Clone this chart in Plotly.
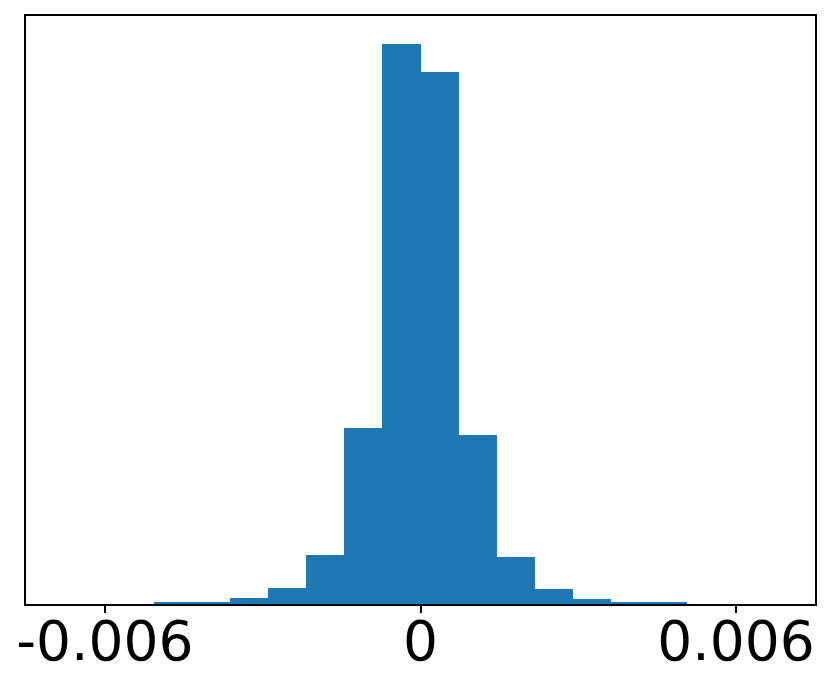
import plotly.graph_objects as go

bin_width = 0.000724
bin_left_edges = [k * bin_width for k in range(-7, 7)]
bin_heights = [1.5, 2.5, 6.2, 15.5, 48.5, 176.2, 559.5, 531.5, 168.5, 46.8, 14.5, 5.5, 2.5, 1.5]
tick_vals = [-0.006, 0, 0.006]
tick_text = ["-0.006", "0", "0.006"]

centers = [e + bin_width / 2 for e in bin_left_edges]

fig = go.Figure(go.Bar(
    x=centers, y=bin_heights, width=bin_width,
    marker=dict(color="#1f77b4", line=dict(width=0)),
))

# page body has an 8px default margin, so the figure is sized to fit the window
fig.update_layout(
    width=823, height=681,
    margin=dict(l=18, r=16, t=8, b=85),
    paper_bgcolor="white", plot_bgcolor="white",
    showlegend=False, bargap=0,
    font=dict(family="DejaVu Sans", color="black"),
)
fig.update_xaxes(
    range=[-0.0075, 0.0075],
    tickvals=tick_vals, ticktext=tick_text,
    ticks="outside", ticklen=7, tickwidth=2, tickcolor="black",
    tickfont=dict(size=55), ticklabelstandoff=-19,
    showline=True, linecolor="black", linewidth=2, mirror=True,
    showgrid=False, zeroline=False, automargin=False,
)
fig.update_yaxes(
    range=[0, max(bin_heights) * 1.05],
    showticklabels=False, ticks="",
    showline=True, linecolor="black", linewidth=2, mirror=True,
    showgrid=False, zeroline=False, automargin=False,
)

fig.write_html("out.html")
